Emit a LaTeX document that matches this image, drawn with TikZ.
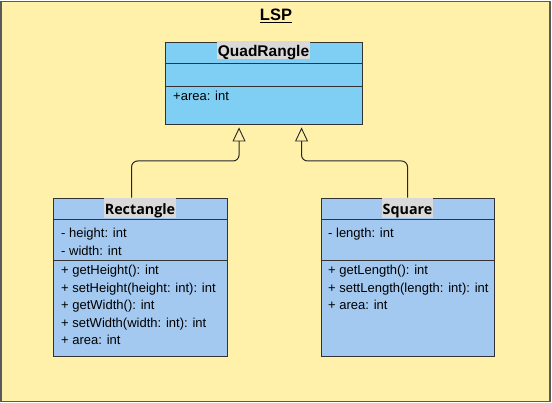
\documentclass[tikz,border=0pt]{standalone}
\usepackage{fontspec}
\setmainfont{Liberation Sans}
\newfontfamily\hdfont{Open Sans}
\usetikzlibrary{arrows.meta,calc}
\definecolor{bgy}{HTML}{FFF0AA}
\definecolor{quadc}{HTML}{7FCFF5}
\definecolor{clsc}{HTML}{A3C9F1}
\definecolor{hlc}{HTML}{D9D9D9}
\definecolor{edgec}{HTML}{333333}
\begin{document}
\begin{tikzpicture}[x=1pt,y=-1pt,
  frame/.style={draw=black!65,line width=1.4pt,fill=bgy,inner sep=0pt},
  cls/.style={draw=edgec,line width=0.9pt,inner sep=0pt},
  sep/.style={draw=edgec,line width=0.9pt},
  txt/.style={anchor=base west,inner sep=0pt,font=\fontsize{13}{15}\selectfont},
  hd/.style={fill=hlc,inner xsep=1pt,inner ysep=0pt,anchor=base},
  conn/.style={draw=black!85,line width=1pt,rounded corners=6pt},
  gen/.style={-{Triangle[open,length=14pt,width=13pt,line width=0.9pt]}}
]
\useasboundingbox (0,0) rectangle (552,403);
\node[frame,minimum width=549pt,minimum height=400pt] (bg) at (275.5,201.5) {};
\node[inner sep=0pt,anchor=base,font=\fontsize{16.5}{18}\selectfont\bfseries] (title) at (276,20.5) {\underline{LSP}};

% QuadRangle
\node[cls,fill=quadc,minimum width=197pt,minimum height=82pt] (quad) at (263.5,83) {};
\draw[sep] ($(quad.north west)+(0,22)$) -- ($(quad.north east)+(0,22)$);
\draw[sep] ($(quad.north west)+(0,45)$) -- ($(quad.north east)+(0,45)$);
\node[hd,font=\fontsize{15.5}{17}\selectfont\bfseries,text height=16pt,text depth=2pt] (quadh) at ($(quad.north)+(0,57)-(0,42)$) {QuadRangle};
\node[txt] (qa) at (173,101) {+area: int};

% Rectangle
\node[cls,fill=clsc,minimum width=174pt,minimum height=158pt] (rect) at (140,277) {};
\draw[sep] ($(rect.north west)+(0,22)$) -- ($(rect.north east)+(0,22)$);
\draw[sep] ($(rect.north west)+(0,63)$) -- ($(rect.north east)+(0,63)$);
\node[hd,font=\fontsize{14.3}{17}\hdfont\bfseries,text height=17pt,text depth=3pt] (recth) at ($(rect.north)+(0,17)$) {Rectangle};
\node[txt] (r1) at (61,238) {- height: int};
\node[txt] (r2) at (61,255.5) {- width: int};
\node[txt] (r3) at (61,275) {+ getHeight(): int};
\node[txt] (r4) at (61,292.5) {+ setHeight(height: int): int};
\node[txt] (r5) at (61,310) {+ getWidth(): int};
\node[txt] (r6) at (61,327.5) {+ setWidth(width: int): int};
\node[txt] (r7) at (61,345) {+ area: int};

% Square
\node[cls,fill=clsc,minimum width=173pt,minimum height=158pt] (sq) at (407.5,277) {};
\draw[sep] ($(sq.north west)+(0,22)$) -- ($(sq.north east)+(0,22)$);
\draw[sep] ($(sq.north west)+(0,63)$) -- ($(sq.north east)+(0,63)$);
\node[hd,font=\fontsize{14.3}{17}\hdfont\bfseries,text height=17pt,text depth=3pt] (sqh) at ($(sq.north)+(0,17)$) {Square};
\node[txt] (s1) at (328,238) {- length: int};
\node[txt] (s2) at (328,275) {+ getLength(): int};
\node[txt] (s3) at (328,292.5) {+ settLength(length: int): int};
\node[txt] (s4) at (328,310) {+ area: int};

% connectors
\coordinate (tipL) at ($(quad.south west)+(74.5,3)$);
\coordinate (tipR) at ($(quad.south west)+(137,3)$);
\coordinate (hy) at (0,161);
\draw[conn,gen] ($(rect.north west)+(79,0)$) |- (hy -| tipL) -- (tipL);
\draw[conn,gen] ($(sq.north west)+(87,0)$) |- (hy -| tipR) -- (tipR);
\end{tikzpicture}
\end{document}
